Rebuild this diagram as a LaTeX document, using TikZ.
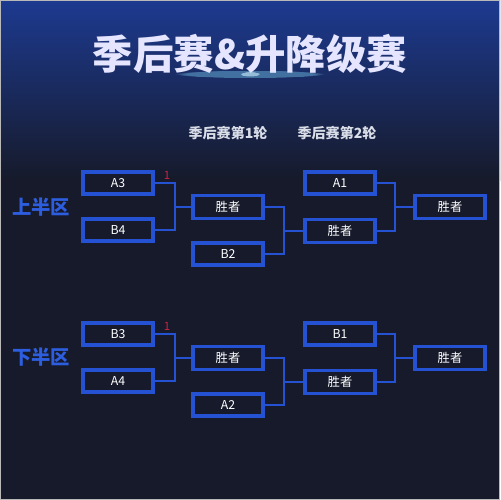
\documentclass[tikz,border=0pt]{standalone}
\usepackage{fontspec}
\setmainfont{Noto Sans CJK SC}
\usetikzlibrary{fadings}
\definecolor{bgdark}{HTML}{161A2A}
\definecolor{bgblue}{HTML}{1D3A90}
\definecolor{boxblue}{HTML}{2452D2}
\definecolor{halfblue}{HTML}{2D5EE0}
\definecolor{seedred}{HTML}{D0213F}
\definecolor{headgray}{HTML}{D9DDE8}

\tikzset{
  team/.style={rectangle, draw=boxblue, line width=2pt, fill=bgdark, minimum width=1.4cm, minimum height=0.44cm, text=white, font=\fontsize{7}{8}\selectfont},
  link/.style={draw=boxblue, line width=1.7pt},
  half/.style={text=halfblue, font=\bfseries\fontsize{11}{13}\selectfont},
  roundhead/.style={text=headgray, font=\bfseries\fontsize{8}{10}\selectfont},
  seed/.style={text=seedred, font=\fontsize{6.5}{7}\selectfont}
}

\begin{document}
\begin{tikzpicture}[x=0.02cm, y=-0.02cm]
            \useasboundingbox (0,0) rectangle (500,500);
            % Background
            \fill[bgdark] (0,0) rectangle (500,500);
            \shade[top color=bgblue, bottom color=bgdark] (0,0) rectangle (500,180);
            \fill[cyan!50!white, opacity=0.4, path fading=circle with fuzzy edge 15 percent] (250,74) ellipse (75 and 4);
            \fill[cyan!20!white, opacity=0.6, path fading=circle with fuzzy edge 15 percent] (250,74) ellipse (10 and 2.5);
            \draw[gray!55, line width=0.6pt] (0.5,0.5) rectangle (499.5,499.5);
            % Title
            \node[text=white!90!blue, font=\bfseries\fontsize{23}{26}\selectfont] (title) at (250,54) {季后赛\&升降级赛};
            \node[roundhead] (round1) at (228,133) {季后赛第1轮};
            \node[roundhead] (round2) at (337,133) {季后赛第2轮};
            % Upper half
            \node[half] (upper) at (41,207) {上半区};
            \node[team] (a3) at (118,183) {A3};
            \node[team] (b4) at (118,230) {B4};
            \node[seed] (seedup) at (167,175) {1};
            \node[team] (w1) at (228,207) {胜者};
            \node[team] (b2) at (228,254) {B2};
            \node[team] (a1) at (340,183) {A1};
            \node[team] (w2) at (340,231) {胜者};
            \node[team] (fin1) at (450,207) {胜者};
            \coordinate (j1) at (175,207);
            \coordinate (j2) at (284,231);
            \coordinate (j3) at (395,207);
            \draw[link] (a3.east) -| (j1) |- (b4.east);
            \draw[link] (j1) -- (w1.west);
            \draw[link] (w1.east) -| (j2) |- (b2.east);
            \draw[link] (j2) -- (w2.west);
            \draw[link] (a1.east) -| (j3) |- (w2.east);
            \draw[link] (j3) -- (fin1.west);
            % Lower half
            \node[half] (lower) at (41,357) {下半区};
            \node[team] (b3) at (118,334) {B3};
            \node[team] (a4) at (118,381) {A4};
            \node[seed] (seedlow) at (167,326) {1};
            \node[team] (w3) at (228,358) {胜者};
            \node[team] (a2) at (228,405) {A2};
            \node[team] (b1) at (340,334) {B1};
            \node[team] (w4) at (340,382) {胜者};
            \node[team] (fin2) at (450,358) {胜者};
            \coordinate (j4) at (175,358);
            \coordinate (j5) at (284,382);
            \coordinate (j6) at (395,358);
            \draw[link] (b3.east) -| (j4) |- (a4.east);
            \draw[link] (j4) -- (w3.west);
            \draw[link] (w3.east) -| (j5) |- (a2.east);
            \draw[link] (j5) -- (w4.west);
            \draw[link] (b1.east) -| (j6) |- (w4.east);
            \draw[link] (j6) -- (fin2.west);
        \end{tikzpicture}
\end{document}
